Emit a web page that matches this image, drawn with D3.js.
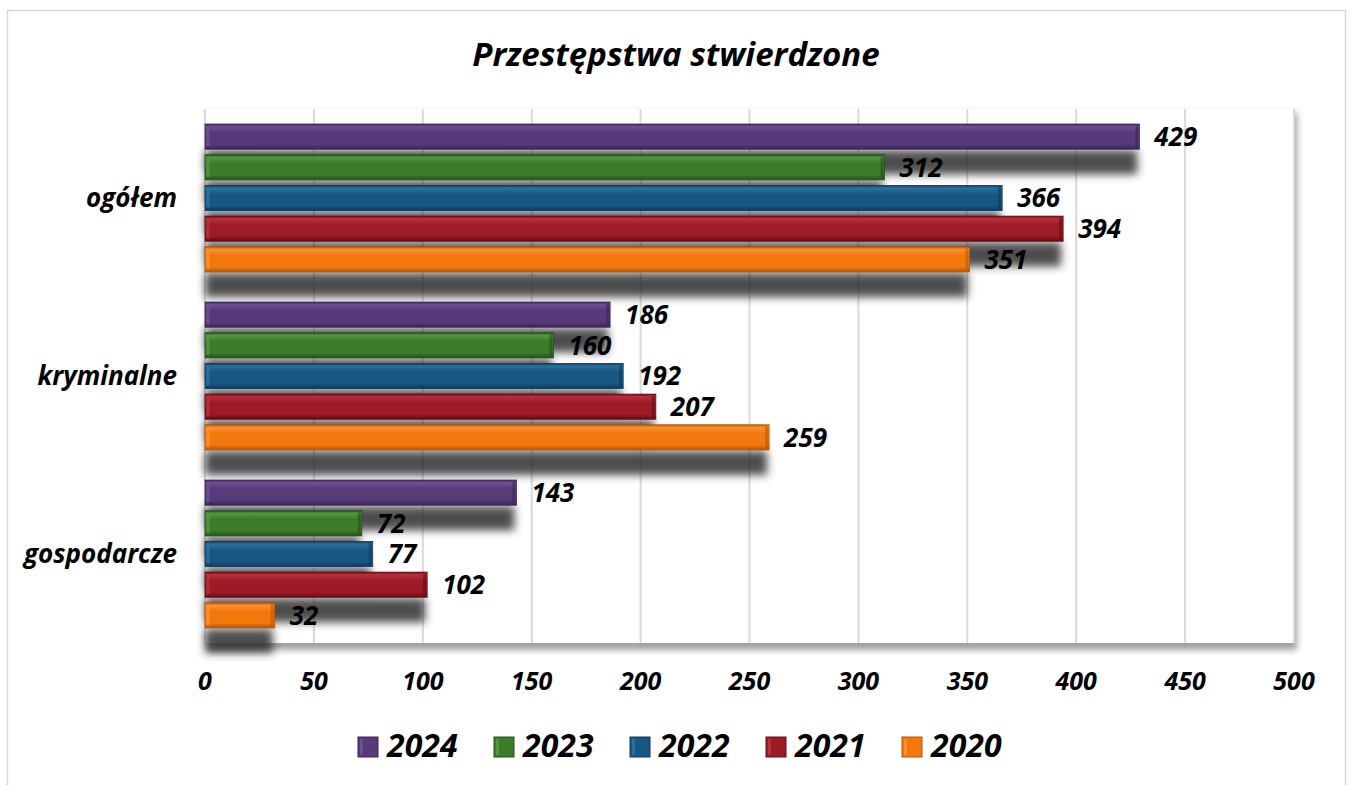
<!DOCTYPE html>
<html>
<head>
<meta charset="utf-8">
<script src="https://cdn.jsdelivr.net/npm/d3@7"></script>
<style>
  body { margin: 0; background: #fff; }
  text { font-family: "Open Sans", Lato, sans-serif; font-weight: bold; font-style: italic; fill: #000; }
</style>
</head>
<body>
<script>
// DATA
const categories = ["ogółem", "kryminalne", "gospodarcze"];
const years = ["2024", "2023", "2022", "2021", "2020"];
const values = {
  "2024": [429, 186, 143],
  "2023": [312, 160, 72],
  "2022": [366, 192, 77],
  "2021": [394, 207, 102],
  "2020": [351, 259, 32]
};
const xTicks = [0, 50, 100, 150, 200, 250, 300, 350, 400, 450, 500];
const title = "Przestępstwa stwierdzone";

// COLORS (base, light, dark)
const colors = {
  "2024": ["#573a7a", "#6e4f94", "#3b2456"],
  "2023": ["#3b7b2b", "#4f9a3c", "#24521a"],
  "2022": ["#195783", "#2c6f9e", "#0c3a5a"],
  "2021": ["#9c1b27", "#b7303c", "#650c14"],
  "2020": ["#f2780c", "#fb9030", "#b5560a"]
};

const W = 1353, H = 785;
const plot = {left: 205, right: 1294, top: 109, bottom: 643};

const svg = d3.select("body").append("svg")
  .attr("width", W).attr("height", H);

const defs = svg.append("defs");
const blur = defs.append("filter").attr("id", "blur")
  .attr("x", "-20%").attr("y", "-60%").attr("width", "140%").attr("height", "220%");
blur.append("feGaussianBlur").attr("stdDeviation", 4.5);

const pShadow = defs.append("filter").attr("id", "pshadow")
  .attr("x", "-5%").attr("y", "-5%").attr("width", "110%").attr("height", "110%");
pShadow.append("feGaussianBlur").attr("stdDeviation", 3);

years.forEach(y => {
  const g = defs.append("linearGradient").attr("id", "g" + y)
    .attr("x1", 0).attr("y1", 0).attr("x2", 0).attr("y2", 1);
  g.append("stop").attr("offset", "0%").attr("stop-color", colors[y][2]);
  g.append("stop").attr("offset", "10%").attr("stop-color", colors[y][1]);
  g.append("stop").attr("offset", "35%").attr("stop-color", colors[y][0]);
  g.append("stop").attr("offset", "80%").attr("stop-color", colors[y][0]);
  g.append("stop").attr("offset", "100%").attr("stop-color", colors[y][2]);
});

// outer frame
svg.append("rect")
  .attr("x", 7.5).attr("y", 10.5).attr("width", 1338).attr("height", 800)
  .attr("fill", "#fff").attr("stroke", "#d9d9d9").attr("stroke-width", 1.5);

// title
svg.append("text")
  .attr("x", 676).attr("y", 66)
  .attr("text-anchor", "middle")
  .style("font-size", "33px")
  .text(title);

// SCALES
const X = d3.scaleLinear().domain([0, 500]).range([plot.left, plot.right]);
const Y = d3.scaleBand().domain(categories).range([plot.top, plot.bottom]).padding(0);
const Yin = d3.scaleBand().domain(years).range([0, Y.bandwidth()])
  .paddingInner(0.18).paddingOuter(0.49);

// plot area shadow + background
svg.append("rect")
  .attr("x", plot.left + 3).attr("y", plot.top + 4)
  .attr("width", plot.right - plot.left).attr("height", plot.bottom - plot.top + 3)
  .attr("fill", "#888").attr("opacity", 0.8).attr("filter", "url(#pshadow)");
svg.append("rect")
  .attr("x", plot.left).attr("y", plot.top)
  .attr("width", plot.right - plot.left).attr("height", plot.bottom - plot.top)
  .attr("fill", "#fff");

// gridlines
svg.append("g").selectAll("line").data(xTicks).join("line")
  .attr("x1", d => X(d)).attr("x2", d => X(d))
  .attr("y1", plot.top).attr("y2", plot.bottom)
  .attr("stroke", "#d9d9d9").attr("stroke-width", 2);

// flatten
const rows = [];
categories.forEach((c, ci) => {
  years.forEach(y => rows.push({cat: c, year: y, v: values[y][ci]}));
});

// bar shadows
svg.append("g").selectAll("rect").data(rows).join("rect")
  .attr("x", X(0))
  .attr("y", d => Y(d.cat) + Yin(d.year) + Yin.bandwidth() + 1)
  .attr("width", d => X(d.v) - X(0) - 2)
  .attr("height", Yin.bandwidth() - 1)
  .attr("fill", "#2e2e2e").attr("opacity", 0.85)
  .attr("filter", "url(#blur)");

// bars
const bars = svg.append("g").selectAll("g").data(rows).join("g")
  .attr("transform", d => `translate(${X(0)},${Y(d.cat) + Yin(d.year)})`);
bars.append("rect")
  .attr("width", d => X(d.v) - X(0))
  .attr("height", Yin.bandwidth())
  .attr("fill", d => `url(#g${d.year})`)
  .attr("stroke", d => colors[d.year][2]).attr("stroke-width", 0.8);
// bevel highlights
bars.append("rect")
  .attr("x", 1.5).attr("y", 3)
  .attr("width", 3).attr("height", Yin.bandwidth() - 6)
  .attr("fill", d => colors[d.year][1]).attr("opacity", 0.9);
bars.append("rect")
  .attr("x", d => X(d.v) - X(0) - 4).attr("y", 2)
  .attr("width", 3).attr("height", Yin.bandwidth() - 4)
  .attr("fill", d => colors[d.year][2]).attr("opacity", 0.6);

// value labels
svg.append("g").selectAll("text").data(rows).join("text")
  .attr("x", d => X(d.v) + 15)
  .attr("y", d => Y(d.cat) + Yin(d.year) + Yin.bandwidth() / 2)
  .attr("dy", "0.36em")
  .style("font-size", "26px")
  .text(d => d.v);

// category labels
svg.append("g").selectAll("text").data(categories).join("text")
  .attr("x", 177)
  .attr("y", d => Y(d) + Y.bandwidth() / 2)
  .attr("dy", "0.36em")
  .attr("text-anchor", "end")
  .style("font-size", "26px")
  .text(d => d);

// x axis labels
svg.append("g").selectAll("text").data(xTicks).join("text")
  .attr("x", d => X(d))
  .attr("y", 690)
  .attr("text-anchor", "middle")
  .style("font-size", "25px")
  .text(d => d);

// legend
const leg = svg.append("g").selectAll("g").data(years).join("g")
  .attr("transform", (d, i) => `translate(${358 + i * 136},0)`);
leg.append("rect")
  .attr("x", 0).attr("y", 737).attr("width", 20).attr("height", 20)
  .attr("fill", d => colors[d][0]).attr("stroke", d => colors[d][2]);
leg.append("rect")
  .attr("x", 2).attr("y", 739).attr("width", 3).attr("height", 16)
  .attr("fill", d => colors[d][1]);
leg.append("text")
  .attr("x", 29).attr("y", 757)
  .style("font-size", "32px")
  .text(d => d);
</script>
</body>
</html>
